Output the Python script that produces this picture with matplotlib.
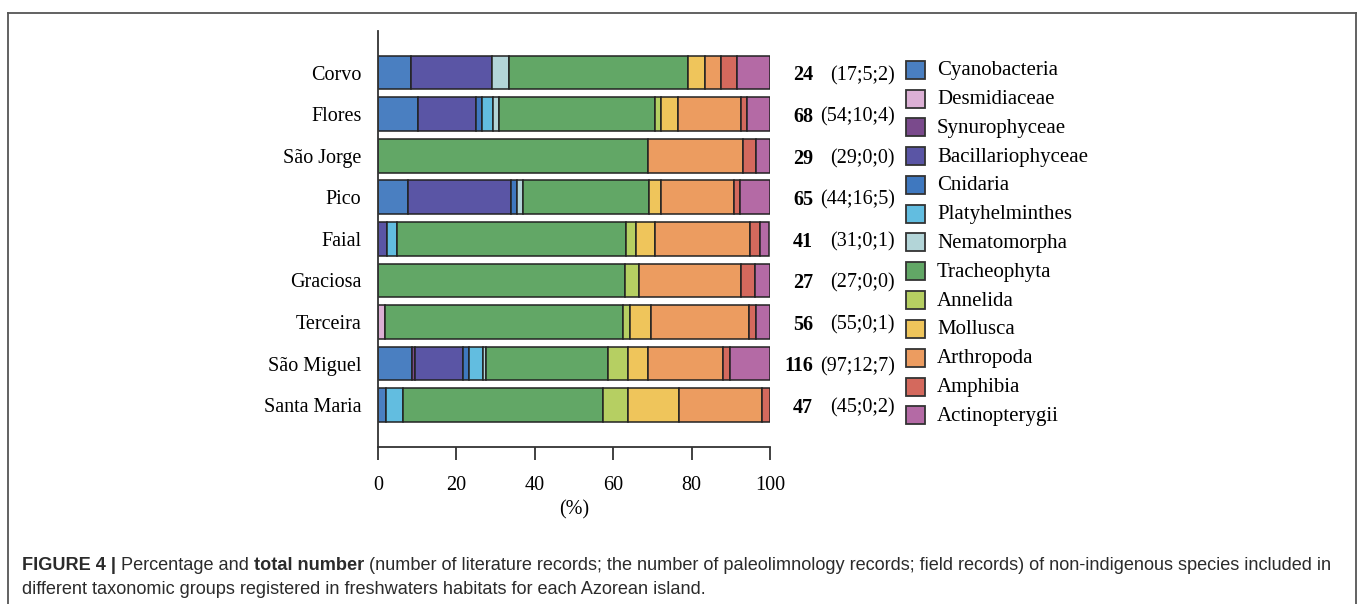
import matplotlib
matplotlib.use("Agg")
import matplotlib.pyplot as plt
from matplotlib.patches import Rectangle
from matplotlib.lines import Line2D
import numpy as np

islands = ["Corvo", "Flores", "São Jorge", "Pico", "Faial", "Graciosa",
           "Terceira", "São Miguel", "Santa Maria"]
taxa = ["Cyanobacteria", "Desmidiaceae", "Synurophyceae", "Bacillariophyceae",
        "Cnidaria", "Platyhelminthes", "Nematomorpha", "Tracheophyta",
        "Annelida", "Mollusca", "Arthropoda", "Amphibia", "Actinopterygii"]
colors = ["#4a7fc1", "#dcb0d5", "#7a4a8c", "#5a55a5", "#3f78bf", "#62bde0",
          "#b3d5d8", "#62a766", "#b6cf62", "#efc55b", "#ec9c60", "#d4695d",
          "#b46aa5"]

# percentages per island (order as in `islands`)
cyanobacteria     = [8.3, 10.3, 0, 7.7, 0, 0, 0, 8.6, 2.1]
desmidiaceae      = [0, 0, 0, 0, 0, 0, 1.8, 0, 0]
synurophyceae     = [0, 0, 0, 0, 0, 0, 0, 0.9, 0]
bacillariophyceae = [20.8, 14.7, 0, 26.2, 2.4, 0, 0, 12.1, 0]
cnidaria          = [0, 1.5, 0, 1.5, 0, 0, 0, 1.7, 0]
platyhelminthes   = [0, 2.9, 0, 0, 2.4, 0, 0, 3.4, 4.3]
nematomorpha      = [4.2, 1.5, 0, 1.5, 0, 0, 0, 0.9, 0]
tracheophyta      = [45.8, 39.7, 69.0, 32.3, 58.5, 63.0, 60.7, 31.0, 51.1]
annelida          = [0, 1.5, 0, 0, 2.4, 3.7, 1.8, 5.2, 6.4]
mollusca          = [4.2, 4.4, 0, 3.1, 4.9, 0, 5.4, 5.2, 12.8]
arthropoda        = [4.2, 16.2, 24.1, 18.5, 24.4, 25.9, 25.0, 19.0, 21.3]
amphibia          = [4.2, 1.5, 3.4, 1.5, 2.4, 3.7, 1.8, 1.7, 2.1]
actinopterygii    = [8.3, 5.9, 3.4, 7.7, 2.4, 3.7, 3.6, 10.3, 0]

totals = ["24", "68", "29", "65", "41", "27", "56", "116", "47"]
records = ["(17;5;2)", "(54;10;4)", "(29;0;0)", "(44;16;5)", "(31;0;1)",
           "(27;0;0)", "(55;0;1)", "(97;12;7)", "(45;0;2)"]
xticks = [0, 20, 40, 60, 80, 100]

series = [cyanobacteria, desmidiaceae, synurophyceae, bacillariophyceae,
          cnidaria, platyhelminthes, nematomorpha, tracheophyta, annelida,
          mollusca, arthropoda, amphibia, actinopterygii]

W, H = 1357, 604
fig = plt.figure(figsize=(W / 100, H / 100), dpi=100)
serif = "Liberation Serif"

ax = fig.add_axes([378 / W, 1 - 446.7 / H, 392 / W, (446.7 - 31) / H])
n = len(islands)
ypos = np.arange(n)[::-1]  # Corvo top
left = np.zeros(n)
for vals, col in zip(series, colors):
    v = np.array(vals, dtype=float)
    m = v > 0
    ax.barh(ypos[m], v[m], left=left[m], height=0.81, color=col,
            edgecolor="#222222", linewidth=1.1)
    left += v

ax.set_xlim(0, 100)
ax.set_ylim(-1, 9)
ax.set_yticks(ypos)
ax.set_yticklabels(islands, fontfamily=serif, fontsize=14.5)
ax.tick_params(axis="y", length=0, pad=12)
ax.set_xticks(xticks)
ax.set_xticklabels([str(t) for t in xticks], fontfamily=serif, fontsize=14.5)
ax.tick_params(axis="x", length=9, width=1.3, color="#333333", pad=12)
ax.set_xlabel("(%)", fontfamily=serif, fontsize=14.5, labelpad=4)
for s in ["top", "right"]:
    ax.spines[s].set_visible(False)
for s in ["left", "bottom"]:
    ax.spines[s].set_color("#333333")
    ax.spines[s].set_linewidth(1.3)

# totals annotations
for y, t, r in zip(ypos, totals, records):
    ax.text(111.0, y - 0.07, t, ha="right", va="center", fontfamily=serif,
            fontsize=14.5, fontweight="bold", clip_on=False)
    ax.text(131.9, y - 0.07, r, ha="right", va="center", fontfamily=serif,
            fontsize=14.5, clip_on=False)

# legend (manual)
for i, (name, col) in enumerate(zip(taxa, colors)):
    yc = 69.7 + i * 28.8
    fig.patches.append(Rectangle((906 / W, 1 - (yc + 9) / H), 19 / W, 18 / H,
                                 transform=fig.transFigure, facecolor=col,
                                 edgecolor="#333333", linewidth=1.3))
    fig.text(937 / W, 1 - (yc + 1) / H, name, ha="left", va="center",
             fontfamily=serif, fontsize=15)

# frame
fc = "#555555"
fig.lines.append(Line2D([8 / W, 8 / W], [0, 1 - 13 / H], transform=fig.transFigure, color=fc, lw=1.3))
fig.lines.append(Line2D([1355.5 / W, 1355.5 / W], [0, 1 - 13 / H], transform=fig.transFigure, color=fc, lw=1.3))
fig.lines.append(Line2D([8 / W, 1355.5 / W], [1 - 13 / H, 1 - 13 / H], transform=fig.transFigure, color=fc, lw=1.3))

# caption with mixed weights
cap_pieces = [("FIGURE 4 | ", "bold"), ("Percentage and ", "normal"),
              ("total number", "bold"),
              (" (number of literature records; the number of paleolimnology records; field records) of non-indigenous species included in", "normal")]
cap_line2 = "different taxonomic groups registered in freshwaters habitats for each Azorean island."
cap_color = "#2b2b2b"
sans = "Liberation Sans"

renderer = fig.canvas.get_renderer()

def draw_line1(size, draw=True):
    x = 22
    objs = []
    for txt, wt in cap_pieces:
        t = fig.text(x / W, 1 - 565 / H, txt, ha="left", va="center",
                     fontfamily=sans, fontsize=size, fontweight=wt, color=cap_color)
        bb = t.get_window_extent(renderer=renderer)
        x += bb.width
        objs.append(t)
    if not draw:
        for t in objs:
            t.remove()
    return x

size = 10
end = draw_line1(size, draw=False)
size = size * (1338 - 22) / (end - 22)
draw_line1(size, draw=True)
fig.text(22 / W, 1 - 589 / H, cap_line2, ha="left", va="center",
         fontfamily=sans, fontsize=size, color=cap_color)

fig.savefig("out.png", dpi=100)
